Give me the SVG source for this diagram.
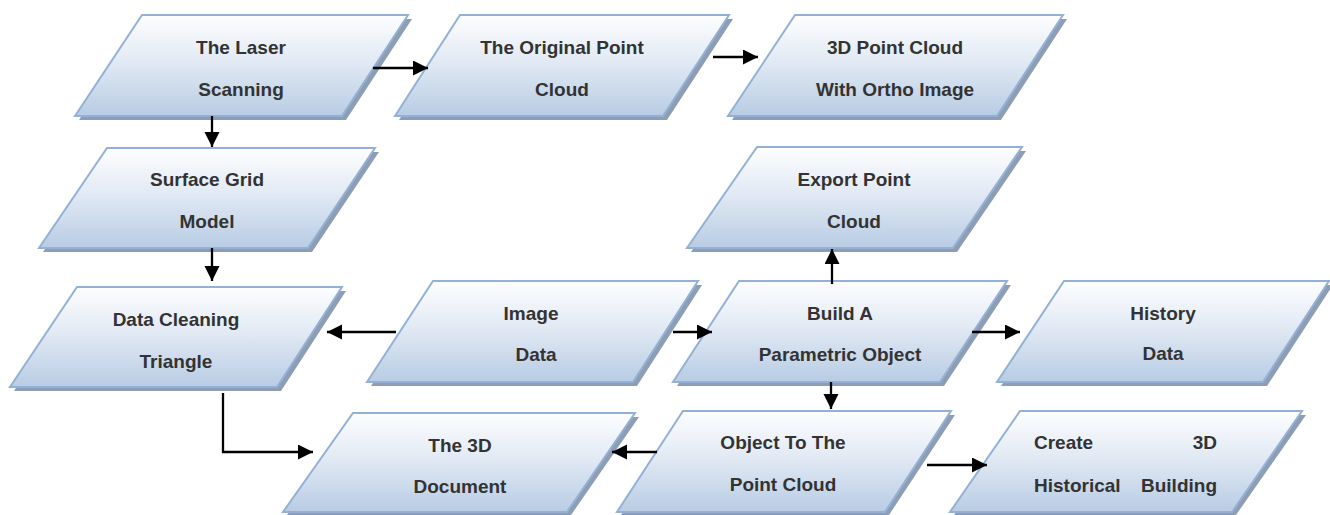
<svg xmlns="http://www.w3.org/2000/svg" width="1330" height="515" viewBox="0 0 1330 515">
  <style>
    .shape { fill: url(#nodeFill); stroke: #93b1d6; stroke-width: 2; stroke-linejoin: miter; }
    .shadow { fill: #8d9db3; }
    .label { font-family: "Liberation Sans", Arial, sans-serif; font-weight: bold; font-size: 19px; fill: #333333; text-anchor: middle; }
    .left { text-anchor: start; }
    .right { text-anchor: end; }
    .edge { fill: none; stroke: #000000; stroke-width: 2.3; marker-end: url(#arrow); }
  </style>
  <defs>
    <linearGradient id="nodeFill" x1="0" y1="0" x2="0" y2="1">
      <stop offset="0" stop-color="#fefeff"/>
      <stop offset="0.45" stop-color="#e2eaf4"/>
      <stop offset="1" stop-color="#b8cce4"/>
    </linearGradient>
    <marker id="arrow" markerUnits="userSpaceOnUse" markerWidth="16" markerHeight="16" refX="15" refY="7.5" orient="auto">
      <path d="M0,0 L15,7.5 L0,15 z" fill="#000000"/>
    </marker>
  </defs>

  <g id="node-laser">
    <polygon class="shadow" points="146,19 412,19 346,120 79,120"/>
    <polygon class="shape" points="142,15 408,15 342,116 75,116"/>
    <text class="label" x="241" y="54">The Laser</text>
    <text class="label" x="241" y="96">Scanning</text>
  </g>

  <g id="node-original">
    <polygon class="shadow" points="464,19 733,19 667,120 399,120"/>
    <polygon class="shape" points="460,15 729,15 663,116 395,116"/>
    <text class="label" x="562" y="54">The Original Point</text>
    <text class="label" x="562" y="96">Cloud</text>
  </g>

  <g id="node-pointcloud3d">
    <polygon class="shadow" points="799,19 1067,19 1001,120 732,120"/>
    <polygon class="shape" points="795,15 1063,15 997,116 728,116"/>
    <text class="label" x="895" y="54">3D Point Cloud</text>
    <text class="label" x="895" y="96">With Ortho Image</text>
  </g>

  <g id="node-surface">
    <polygon class="shadow" points="111,152 379,152 312,252 43,252"/>
    <polygon class="shape" points="107,148 375,148 308,248 39,248"/>
    <text class="label" x="207" y="186">Surface Grid</text>
    <text class="label" x="207" y="228">Model</text>
  </g>

  <g id="node-export">
    <polygon class="shadow" points="761,151 1026,151 957,252 691,252"/>
    <polygon class="shape" points="757,147 1022,147 953,248 687,248"/>
    <text class="label" x="854" y="186">Export Point</text>
    <text class="label" x="854" y="228">Cloud</text>
  </g>

  <g id="node-cleaning">
    <polygon class="shadow" points="81,291 346,291 281,391 14,391"/>
    <polygon class="shape" points="77,287 342,287 277,387 10,387"/>
    <text class="label" x="176" y="326">Data Cleaning</text>
    <text class="label" x="176" y="368">Triangle</text>
  </g>

  <g id="node-image">
    <polygon class="shadow" points="437,285 702,285 637,386 371,386"/>
    <polygon class="shape" points="433,281 698,281 633,382 367,382"/>
    <text class="label" x="531" y="320">Image</text>
    <text class="label" x="536" y="361">Data</text>
  </g>

  <g id="node-build">
    <polygon class="shadow" points="743,285 1011,285 944,386 677,386"/>
    <polygon class="shape" points="739,281 1007,281 940,382 673,382"/>
    <text class="label" x="840" y="320">Build A</text>
    <text class="label" x="840" y="361">Parametric Object</text>
  </g>

  <g id="node-history">
    <polygon class="shadow" points="1068,285 1333,285 1267,386 1001,386"/>
    <polygon class="shape" points="1064,281 1329,281 1263,382 997,382"/>
    <text class="label" x="1163" y="320">History</text>
    <text class="label" x="1163" y="360">Data</text>
  </g>

  <g id="node-document3d">
    <polygon class="shadow" points="357,417 639,417 571,515 287,515"/>
    <polygon class="shape" points="353,413 635,413 567,512 283,512"/>
    <text class="label" x="460" y="452">The 3D</text>
    <text class="label" x="460" y="493">Document</text>
  </g>

  <g id="node-object">
    <polygon class="shadow" points="687,415 955,415 889,515 621,515"/>
    <polygon class="shape" points="683,411 951,411 885,512 617,512"/>
    <text class="label" x="783" y="449">Object To The</text>
    <text class="label" x="783" y="491">Point Cloud</text>
  </g>

  <g id="node-create">
    <polygon class="shadow" points="1024,415 1306,415 1236,515 954,515"/>
    <polygon class="shape" points="1020,411 1302,411 1232,512 950,512"/>
    <text class="label left" x="1034" y="449">Create</text>
    <text class="label right" x="1217" y="449">3D</text>
    <text class="label left" x="1034" y="492">Historical</text>
    <text class="label right" x="1217" y="492">Building</text>
  </g>

  <g id="connectors">
    <path class="edge" d="M373,68 L428,68"/>
    <path class="edge" d="M713,57 L758,57"/>
    <path class="edge" d="M212,116 L212,147"/>
    <path class="edge" d="M212,248 L212,281"/>
    <path class="edge" d="M396,332 L327,332"/>
    <path class="edge" d="M223,393 L223,452 L313,452"/>
    <path class="edge" d="M673,332 L712,332"/>
    <path class="edge" d="M832,284 L832,249"/>
    <path class="edge" d="M972,332 L1020,332"/>
    <path class="edge" d="M831,382 L831,409"/>
    <path class="edge" d="M657,452 L612,452"/>
    <path class="edge" d="M927,465 L987,465"/>
  </g>
</svg>
